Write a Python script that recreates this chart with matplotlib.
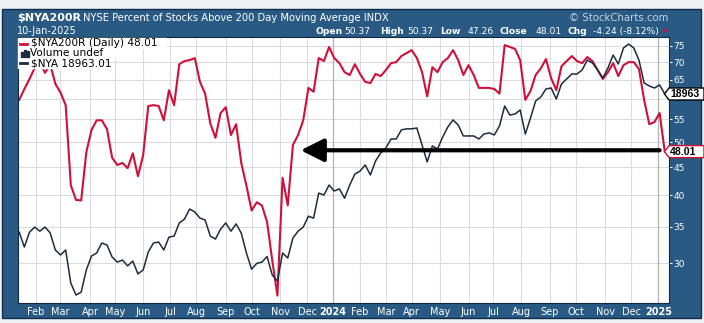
import numpy as np
import pandas as pd
import matplotlib.pyplot as plt
from matplotlib.patches import Rectangle, Polygon
from matplotlib.ticker import NullLocator

# NYSE closed days inside the window, so x counts trading sessions like the original
holidays = ["2023-01-16", "2023-02-20", "2023-04-07", "2023-05-29", "2023-06-19",
            "2023-07-04", "2023-09-04", "2023-11-23", "2023-12-25", "2024-01-01",
            "2024-01-15", "2024-02-19", "2024-03-29", "2024-05-27", "2024-06-19",
            "2024-07-04", "2024-09-02", "2024-11-28", "2024-12-25", "2025-01-01",
            "2025-01-09"]
first_day, last_day = "2023-01-11", "2025-01-10"
step = 4  # one reading every 4 sessions

# $NYA200R, percent above 200 dma
nya200r = [59.7, 62.5, 65.2, 68.3, 70.0, 66.9, 69.4, 63.9, 61.6, 58.4,
           41.7, 39.2, 39.1, 47.9, 52.6, 54.8, 54.8, 52.8, 46.8, 45.4,
           45.8, 44.8, 47.7, 43.3, 47.3, 58.2, 58.4, 58.2, 54.8, 62.2,
           58.4, 69.4, 70.3, 70.6, 71.2, 64.4, 61.3, 54.1, 50.9, 56.5,
           57.9, 51.5, 53.9, 45.8, 41.6, 37.5, 38.8, 38.3, 35.7, 30.4,
           26.2, 43.0, 38.3, 49.4, 51.5, 54.8, 62.8, 61.8, 71.2, 70.3,
           74.6, 71.2, 69.7, 67.1, 66.3, 69.4, 66.6, 64.4, 64.1, 66.6,
           66.0, 67.7, 69.7, 70.0, 71.8, 72.7, 73.6, 71.2, 67.1, 60.6,
           68.5, 67.1, 70.0, 71.2, 73.6, 70.6, 66.3, 69.1, 66.3, 62.8,
           62.8, 62.8, 62.5, 61.3, 75.2, 74.6, 74.0, 70.6, 59.7, 62.0,
           66.3, 68.2, 70.9, 65.4, 62.2, 68.8, 70.3, 71.8, 70.3, 69.7,
           71.5, 70.3, 67.7, 65.2, 67.1, 69.7, 66.0, 69.1, 70.0, 70.0,
           68.0, 59.7, 53.9, 54.4, 56.5, 48.01]

# $NYA composite, overlaid on its own hidden scale
nya = [15870, 15570, 15870, 15975, 15890, 15975, 15855, 15510, 15410, 15510,
       14860, 14636, 14690, 15115, 15390, 15450, 15650, 15610, 15370, 15270,
       15310, 15195, 15290, 15040, 15115, 15470, 15650, 15670, 15510, 15770,
       15790, 16060, 16140, 16350, 16290, 16160, 16121, 15790, 15730, 15935,
       16060, 15890, 16040, 15850, 15450, 15130, 15245, 15270, 15380, 15019,
       14900, 15450, 15350, 15750, 15890, 15975, 16200, 16160, 16690, 16648,
       16864, 16735, 16780, 16580, 16864, 17105, 17170, 17306, 17084, 17395,
       17575, 17690, 17895, 17895, 18105, 18130, 18130, 18150, 17757, 17373,
       17735, 17665, 17940, 18175, 18339, 18221, 17965, 17965, 17965, 17895,
       18010, 18035, 17988, 18200, 18672, 18457, 18480, 18576, 18010, 18385,
       18793, 18890, 19087, 19110, 18842, 19210, 19333, 19458, 19458, 19560,
       19810, 19735, 19560, 19358, 19610, 19940, 19710, 20120, 20225, 20120,
       19810, 19235, 19160, 19110, 19185, 18963.01]

pct_ticks = [30, 35, 40, 45, 50, 55, 60, 65, 70, 75]
quote_labels = ["Open", "High", "Low", "Close", "Chg"]
quote_values = ["50.37", "50.37", "47.26", "48.01", "-4.24 (-8.12%)"]
last_pct, last_nya = "48.01", "18963.01"
arrow_level, arrow_from, arrow_to = 48.3, "2023-11-21", "2025-01-02"

RED = "#d0103a"
NAVY = "#1c2c40"
PANEL = "#285a84"

W, H = 704, 323
def fx(px): return px / W
def fy(py): return 1 - py / H

days = pd.bdate_range(first_day, last_day, freq="C", holidays=holidays)
xs = np.arange(1, len(days), step)

fig = plt.figure(figsize=(7.04, 3.23), dpi=100)
fig.patch.set_facecolor("#eef2f5")
fig.patches.append(Rectangle((fx(1.5), fy(318)), fx(701) - fx(1.5), fy(8.5) - fy(318),
                             transform=fig.transFigure, facecolor=PANEL,
                             edgecolor="#0f2c4a", lw=1, zorder=-5))

ax = fig.add_axes([fx(17.5), fy(303), fx(669.3) - fx(17.5), fy(37) - fy(303)])
ax2 = ax.twinx()

ax.set_facecolor("white")
ax.set_yscale("log")
ax.set_ylim(25.4, 77.8)
ax.set_xlim(-0.3, 504.5)
ax.yaxis.tick_right()
ax.yaxis.set_minor_locator(NullLocator())
ax.set_yticks(pct_ticks)
ax.set_yticklabels(["" if v == 60 else str(v) for v in pct_ticks])
ax.tick_params(axis="y", colors="white", labelsize=6.5, length=2, pad=1)

month_idx = [i for i in range(1, len(days)) if days[i].month != days[i - 1].month]
ax.set_xticks(month_idx)
ax.set_xticklabels([str(days[i].year) if days[i].month == 1 else days[i].strftime("%b")
                    for i in month_idx])
for t, i in zip(ax.get_xticklabels(), month_idx):
    if days[i].month == 1:
        t.set_fontweight("bold")
        t.set_fontsize(7.5)
ax.tick_params(axis="x", colors="white", labelsize=7, length=0, pad=3)
ax.grid(True, color="#dcdcdc", lw=0.8)
for i in month_idx:
    if days[i].month == 1:
        ax.axvline(i, color="#b4b4b4", lw=0.9)
for s in ax.spines.values():
    s.set_color("#14283f")
    s.set_linewidth(0.8)

ax.plot(xs, nya200r, color=RED, lw=1.5, solid_joinstyle="round")

ax2.set_yscale("log")
ax2.set_ylim(14486, 20408)
ax2.set_yticks([])
ax2.set_yticks([], minor=True)
ax2.tick_params(right=False, labelright=False)
for s in ax2.spines.values():
    s.set_visible(False)
ax2.plot(xs, nya, color=NAVY, lw=1.1)

# big black arrow pointing back to the Nov 2023 level
a0 = days.get_loc(pd.Timestamp(arrow_from)) + 2
a1 = days.get_loc(pd.Timestamp(arrow_to)) + 1
ax2.annotate("", xy=(a0, arrow_level), xytext=(a1, arrow_level),
             xycoords=ax.transData, textcoords=ax.transData,
             arrowprops=dict(arrowstyle="-|>,head_length=1.4,head_width=0.7",
                             lw=3, color="black", shrinkA=0, shrinkB=0))

# header
fig.text(fx(17), fy(20.7), "$NYA200R", color="white", fontsize=8, weight="bold")
fig.text(fx(83), fy(20.7), "NYSE Percent of Stocks Above 200 Day Moving Average INDX",
         color="white", fontsize=7.2)
fig.text(fx(668), fy(20.7), "\u00a9 StockCharts.com", color="#c6d3df", fontsize=7.3,
         ha="right")
fig.text(fx(17), fy(34.2), "10-Jan-2025", color="white", fontsize=7)

lab_x = [315, 380, 440, 500, 568]
val_x = [344, 407, 467, 535, 593]
for lab, val, lx, vx in zip(quote_labels, quote_values, lab_x, val_x):
    fig.text(fx(lx), fy(34.2), lab, color="white", fontsize=6.6, weight="bold")
    fig.text(fx(vx), fy(34.2), val, color="white", fontsize=6.6)
fig.text(fx(662.5), fy(33.5), "\u25bc", color=RED, fontsize=4.5)

# legend block on white background
for y0, x1 in [(38, 166), (48, 118), (58, 98)]:
    fig.patches.append(Rectangle((fx(18), fy(y0 + 10)), fx(x1) - fx(18), fy(y0) - fy(y0 + 10),
                                 transform=fig.transFigure, color="white", zorder=3))
fig.lines.append(plt.Line2D([fx(20), fx(27)], [fy(43.5)] * 2, color=RED, lw=2,
                            transform=fig.transFigure, zorder=4))
fig.text(fx(31), fy(43.5), "$NYA200R (Daily) " + last_pct, fontsize=7.6, va="center",
         color="black", zorder=4)
for bx, bh in [(20.5, 5), (23.5, 7), (26.5, 6)]:
    fig.patches.append(Rectangle((fx(bx), fy(57)), fx(2), fy(57 - bh) - fy(57),
                                 transform=fig.transFigure, color=NAVY, zorder=4))
fig.text(fx(30), fy(53), "Volume undef", fontsize=7.6, va="center", color="black",
         zorder=4)
fig.lines.append(plt.Line2D([fx(20), fx(27)], [fy(63)] * 2, color=NAVY, lw=2,
                            transform=fig.transFigure, zorder=4))
fig.text(fx(31), fy(63), "$NYA " + last_nya, fontsize=7.6, va="center", color="black",
         zorder=4)

# last-value tags on the right
def tag(py, txt, edge):
    pts = [(664.5, py), (669, py - 6), (704, py - 6), (704, py + 6), (669, py + 6)]
    fig.patches.append(Polygon([(fx(a), fy(b)) for a, b in pts], closed=True,
                               transform=fig.transFigure, facecolor="white",
                               edgecolor=edge, lw=1, zorder=5))
    fig.text(fx(670), fy(py), txt, fontsize=7.6, weight="bold", va="center",
             family="Liberation Sans", color="black", zorder=6)

tag(94, last_nya.split(".")[0], "black")
tag(151.6, last_pct, RED)

fig.savefig("out.png", dpi=100, facecolor=fig.get_facecolor())
